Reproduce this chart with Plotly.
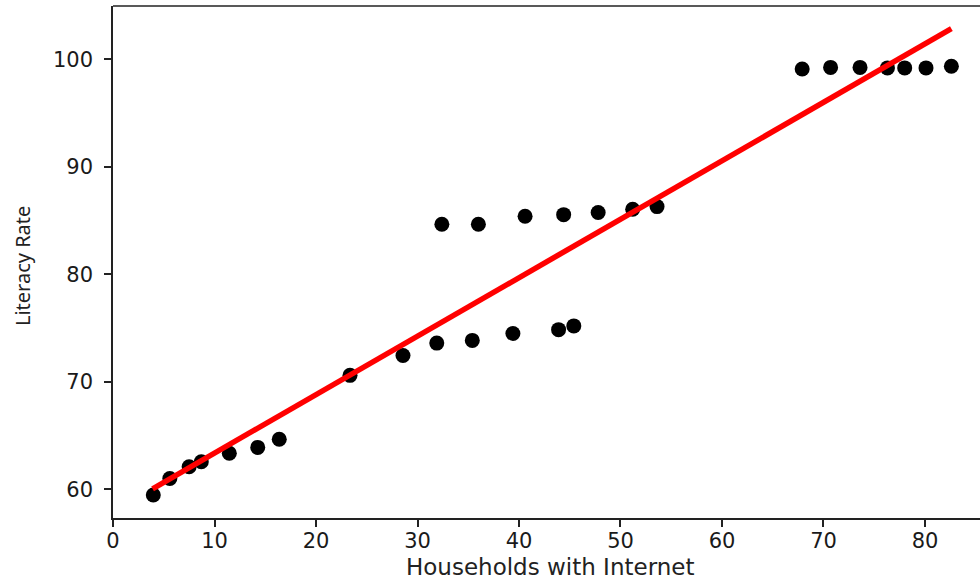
import plotly.graph_objects as go

# Data
households = [3.97, 5.6, 7.5, 8.7, 11.46, 14.26, 16.38, 23.35, 28.57, 31.9, 35.4, 39.4,
              43.9, 45.4, 32.4, 36.0, 40.6, 44.4, 47.8, 51.2, 53.6,
              67.9, 70.7, 73.6, 76.3, 78.0, 80.1, 82.6]
literacy = [59.47, 61.0, 62.1, 62.56, 63.35, 63.9, 64.65, 70.6, 72.45, 73.6, 73.85, 74.5,
            74.85, 75.2, 84.65, 84.65, 85.4, 85.55, 85.75, 86.05, 86.3,
            99.1, 99.25, 99.25, 99.2, 99.2, 99.2, 99.35]

fit_x = [3.9, 82.6]
fit_y = [60.05, 102.85]

x_ticks = [0, 10, 20, 30, 40, 50, 60, 70, 80]
y_ticks = [60, 70, 80, 90, 100]

fig = go.Figure()
fig.add_trace(go.Scatter(x=households, y=literacy, mode="markers",
                         marker=dict(color="black", size=15, line=dict(width=0)),
                         showlegend=False))
fig.add_trace(go.Scatter(x=fit_x, y=fit_y, mode="lines",
                         line=dict(color="#ff0000", width=5.5),
                         showlegend=False))

axis_common = dict(showline=True, linecolor="#222222", linewidth=1.5, mirror=False,
                   ticks="outside", ticklen=7, tickwidth=1.5, tickcolor="#222222",
                   showgrid=False, zeroline=False,
                   tickfont=dict(family="DejaVu Sans", size=21, color="#1a1a1a"))

fig.update_layout(
    width=980, height=579,
    margin=dict(l=113, r=0, t=6, b=61),
    plot_bgcolor="white", paper_bgcolor="white",
    xaxis=dict(range=[0, 85.42], tickvals=x_ticks, ticklabelstandoff=-4, **axis_common),
    yaxis=dict(range=[57.33, 104.96], tickvals=y_ticks, ticklabelstandoff=7, **axis_common),
    shapes=[dict(type="line", xref="paper", yref="paper", x0=0, x1=1, y0=1, y1=1,
                 line=dict(color="#222222", width=1.5))],
    annotations=[
        dict(text="Households with Internet", xref="paper", yref="paper",
             x=0.504, y=-0.0957, xanchor="center", yanchor="middle", showarrow=False,
             font=dict(family="DejaVu Sans", size=23, color="#222222")),
        dict(text="Literacy Rate", xref="paper", yref="paper",
             x=-0.105, y=0.492, xanchor="center", yanchor="middle", showarrow=False,
             textangle=-90,
             font=dict(family="Noto Sans", size=20, color="#222222")),
    ],
)

fig.write_html("out.html")
